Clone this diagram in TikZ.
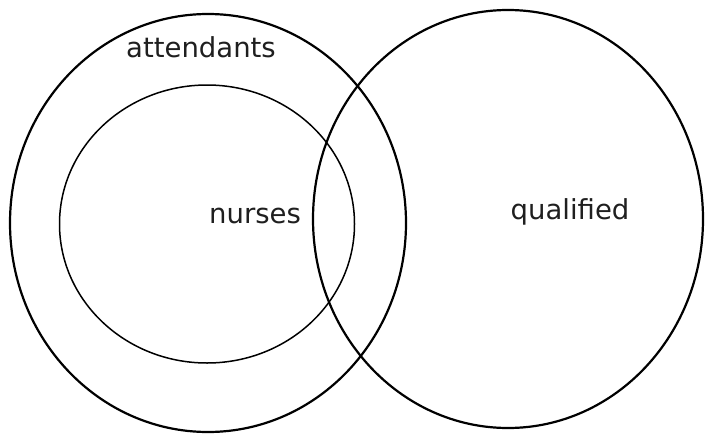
\documentclass[tikz,border=0pt]{standalone}
\usepackage{fontspec}
\setmainfont{DejaVu Sans}
\usetikzlibrary{shapes.geometric}
\begin{document}
\begin{tikzpicture}[x=1pt,y=-1pt,
  setring/.style={ellipse, draw=black, line width=2.2pt, inner sep=0pt},
  subring/.style={ellipse, draw=black, line width=1.5pt, inner sep=0pt},
  setlabel/.style={anchor=base, inner sep=0pt, text=black!88, font=\fontsize{27.5}{32}\selectfont}]
\useasboundingbox (0,0) rectangle (706,439);
\node[setring, minimum width=396pt, minimum height=418pt] (attendants) at (208,223) {};
\node[subring, minimum width=295pt, minimum height=278pt] (nurses) at (207,224) {};
\node[setring, minimum width=390pt, minimum height=418pt] (qualified) at (508,219) {};
\node[setlabel] (lattendants) at (201,57) {attendants};
\node[setlabel] (lnurses) at (255,223) {nurses};
\node[setlabel] (lqualified) at (570,219) {qualified};
\end{tikzpicture}
\end{document}
